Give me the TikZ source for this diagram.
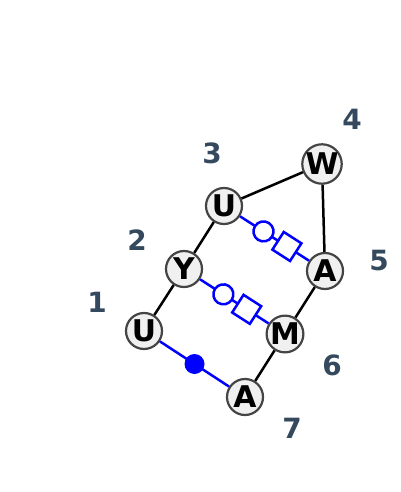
\documentclass[tikz,border=0pt]{standalone}
\usepackage{fontspec}
\setmainfont{DejaVu Sans}
\definecolor{ringgray}{HTML}{444444}
\definecolor{nodefill}{HTML}{F0F0F0}
\definecolor{numblue}{HTML}{34495E}
\begin{document}
\begin{tikzpicture}[x=1bp, y=-1bp,
  residue/.style={circle, draw=ringgray, fill=nodefill, line width=2.2bp, minimum size=36bp, inner sep=0pt, font=\bfseries\fontsize{30}{30}\selectfont},
  seqnum/.style={text=numblue, font=\bfseries\fontsize{28}{28}\selectfont},
  bond/.style={line width=2.5bp, black},
  link/.style={line width=2.5bp, blue},
  ringmark/.style={circle, draw=blue, fill=white, line width=2.5bp, minimum size=20bp, inner sep=0pt, sloped},
  boxmark/.style={rectangle, draw=blue, fill=white, line width=2.5bp, minimum size=21bp, inner sep=0pt, sloped},
  dotmark/.style={circle, fill=blue, minimum size=20bp, inner sep=0pt}]

\useasboundingbox (0,0) rectangle (400,492) ;

\node [residue] (r1) at (144,331) {U} ;
\node [residue] (r2) at (184,269) {Y} ;
\node [residue] (r3) at (224,206) {U} ;
\node [residue] (r4) at (322,164) {W} ;
\node [residue] (r5) at (325,271) {A} ;
\node [residue] (r6) at (285,334) {M} ;
\node [residue] (r7) at (245,397) {A} ;

\node [seqnum] (n1) at (97,302) {1} ;
\node [seqnum] (n2) at (137,240) {2} ;
\node [seqnum] (n3) at (212,153) {3} ;
\node [seqnum] (n4) at (352,119) {4} ;
\node [seqnum] (n5) at (379,261) {5} ;
\node [seqnum] (n6) at (332,365) {6} ;
\node [seqnum] (n7) at (292,428) {7} ;

\draw [bond] (r1) -- (r2) ;
\draw [bond] (r2) -- (r3) ;
\draw [bond] (r3) -- (r4) ;
\draw [bond] (r4) -- (r5) ;
\draw [bond] (r5) -- (r6) ;
\draw [bond] (r6) -- (r7) ;

\draw [link] (r3) -- (r5) node [ringmark, pos=0.34] {} node [boxmark, pos=0.68] {} ;
\draw [link] (r2) -- (r6) node [ringmark, pos=0.34] {} node [boxmark, pos=0.68] {} ;
\draw [link] (r1) -- (r7) node [dotmark, pos=0.5] {} ;

\end{tikzpicture}
\end{document}
